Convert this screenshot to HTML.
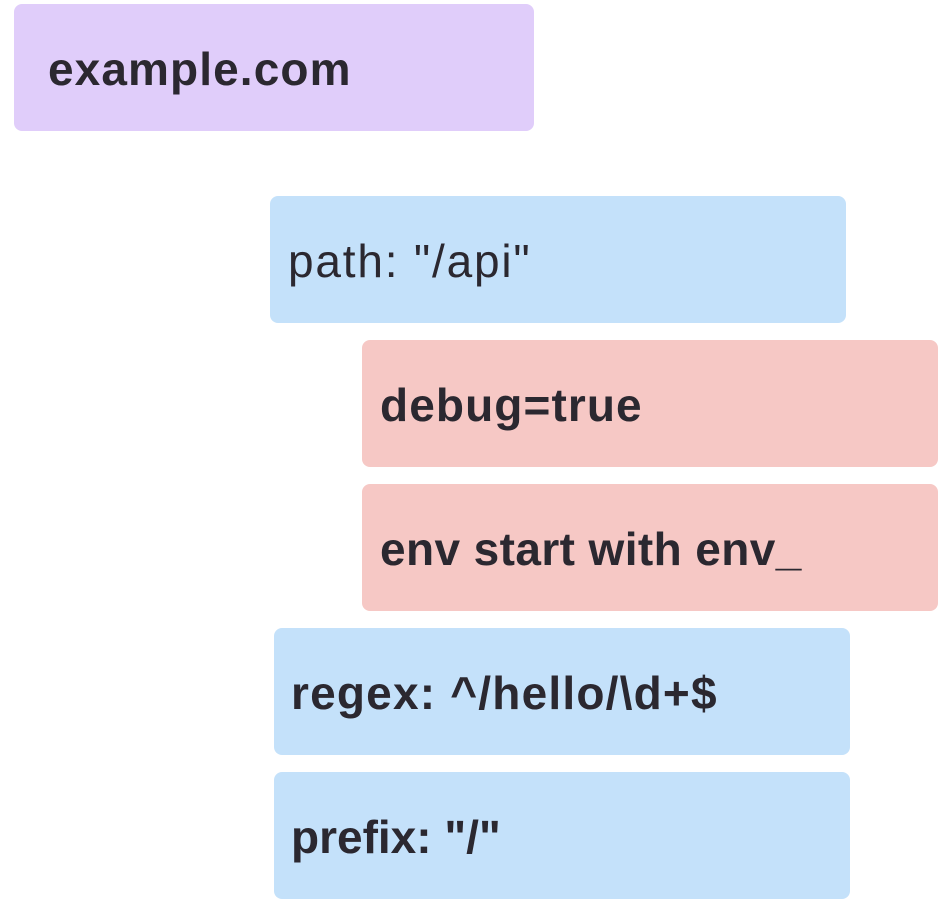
<!DOCTYPE html>
<html><head><style>
body{margin:0;width:950px;height:910px;background:#fff;position:relative;font-family:"Liberation Sans",sans-serif;color:#2b2830;}
.b{position:absolute;border-radius:8px;box-sizing:border-box;font-size:46px;line-height:1;letter-spacing:1.1px;}
.t{position:absolute;white-space:nowrap;}
</style></head><body>
<div class="b" style="left:14px;top:4px;width:520px;height:127px;background:#e0cdfa;"><span class="t" style="left:34px;top:42px;font-weight:bold;">example.com</span></div>
<div class="b" style="left:270px;top:196px;width:576px;height:127px;background:#c4e1fa;"><span class="t" style="left:18px;top:42px;letter-spacing:1.8px;">path: "/api"</span></div>
<div class="b" style="left:362px;top:340px;width:576px;height:127px;background:#f6c8c5;"><span class="t" style="left:18px;top:42px;font-weight:bold;">debug=true</span></div>
<div class="b" style="left:362px;top:484px;width:576px;height:127px;background:#f6c8c5;"><span class="t" style="left:18px;top:42px;font-weight:bold;letter-spacing:0.4px;">env start with env_</span></div>
<div class="b" style="left:274px;top:628px;width:576px;height:127px;background:#c4e1fa;"><span class="t" style="left:17px;top:42px;font-weight:bold;letter-spacing:1.2px;">regex: ^/hello/\d+$</span></div>
<div class="b" style="left:274px;top:772px;width:576px;height:127px;background:#c4e1fa;"><span class="t" style="left:17px;top:42px;font-weight:bold;letter-spacing:0px;">prefix: "/"</span></div>
</body></html>
